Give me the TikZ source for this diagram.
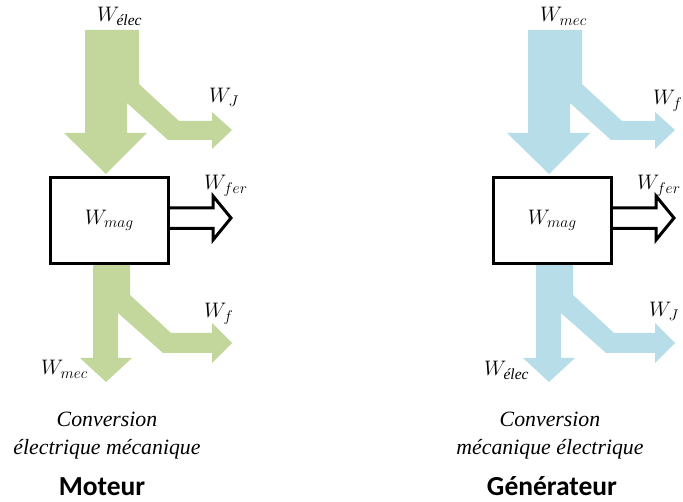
\RequirePackage{fix-cm}
\documentclass[tikz,border=0pt]{standalone}
\usepackage{amsmath}
\usepackage{fontspec}
\setmainfont{Liberation Serif}
\newfontfamily\calib{Carlito}
\definecolor{flowgreen}{HTML}{C3D69B}
\definecolor{flowblue}{HTML}{B7DDE8}
\newcommand{\lsub}[1]{\text{\fontsize{15.5}{18}\selectfont$#1$}}
\newcommand{\flowtop}[1]{\fill[#1] (85,30) -- (139,30) -- (139,84) -- (179,121) -- (212,121) -- (212,112) -- (232,130) -- (212,149) -- (212,140) -- (168,140) -- (127,103) -- (127,133) -- (147,133) -- (106,174) -- (64,133) -- (85,133) -- cycle;}
\newcommand{\flowbot}[1]{\fill[#1] (93,262) -- (130,262) -- (130,295) -- (171,333) -- (212,333) -- (212,323) -- (232,343) -- (212,363) -- (212,353) -- (163,353) -- (118,313) -- (118,358) -- (132,358) -- (106,382) -- (80,358) -- (93,358) -- cycle;}
\tikzset{
  magbox/.style={draw=black, line width=3pt, fill=white, minimum width=118.5pt, minimum height=86pt, inner sep=0pt, font=\fontsize{21}{25}\selectfont},
  hollow/.style={draw=black, line width=3pt, fill=white, miter limit=10},
  lbl/.style={anchor=base west, inner sep=0pt, font=\fontsize{21}{25}\selectfont},
  captext/.style={anchor=base, inner sep=0pt, font=\fontsize{21.8}{26}\selectfont\itshape},
  titletext/.style={anchor=base, inner sep=0pt, font=\fontsize{27.5}{32}\selectfont\calib\bfseries}
}
\begin{document}
\begin{tikzpicture}[x=1pt,y=-1pt]
\useasboundingbox (0,0) rectangle (683,502);
\clip (0,0) rectangle (683,502);
% ---- Moteur
\flowtop{flowgreen}
\flowbot{flowgreen}
\node[magbox] (boxL) at (109.25,220.5) {$W_{\lsub{mag}}$};
\draw[hollow] (boxL.east |- 0,208) -- (213,208) -- (213,196) -- (231,218) -- (213,240) -- (213,228.5) -- (boxL.east |- 0,228.5);
\node[lbl] (elecL) at (97,22) {$W_{\lsub{\textit{élec}}}$};
\node[lbl] (jL) at (209,103) {$W_{\lsub{J}}$};
\node[lbl] (ferL) at (204,190) {$W_{\lsub{fer}}$};
\node[lbl] (fL) at (204,318) {$W_{\lsub{f}}$};
\node[lbl] (mecL) at (41,375) {$W_{\lsub{mec}}$};
\node[captext] (c1L) at (107,427) {Conversion};
\node[captext] (c2L) at (107,454) {électrique mécanique};
\node[titletext] (tL) at (102,496) {Moteur};
% ---- Generateur
\begin{scope}[xshift=443pt]
\flowtop{flowblue}
\flowbot{flowblue}
\node[magbox] (boxR) at (109.25,220.5) {$W_{\lsub{mag}}$};
\draw[hollow] (boxR.east |- 0,208) -- (213,208) -- (213,196) -- (231,218) -- (213,240) -- (213,228.5) -- (boxR.east |- 0,228.5);
\node[lbl] (mecR) at (97,22) {$W_{\lsub{mec}}$};
\node[lbl] (fR) at (210,105) {$W_{\lsub{f}}$};
\node[lbl] (ferR) at (194,190) {$W_{\lsub{fer}}$};
\node[lbl] (jR) at (206,317) {$W_{\lsub{J}}$};
\node[lbl] (elecR) at (41,376) {$W_{\lsub{\textit{élec}}}$};
\node[captext] (c1R) at (107,427) {Conversion};
\node[captext] (c2R) at (107,455) {mécanique électrique};
\node[titletext] (tR) at (109,496) {Générateur};
\end{scope}
\end{tikzpicture}
\end{document}
